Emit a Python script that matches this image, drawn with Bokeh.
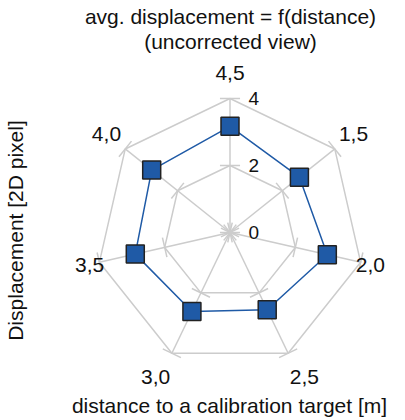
import numpy as np
from bokeh.plotting import figure
from bokeh.models import Range1d
from bokeh.core.properties import value
from bokeh.embed import file_html
from bokeh.resources import INLINE

# ---- data ----
categories = ["4,5", "1,5", "2,0", "2,5", "3,0", "3,5", "4,0"]
displacement = [3.17, 2.65, 2.98, 2.56, 2.62, 2.90, 2.99]
radial_ticks = [0, 2, 4]
radial_tick_labels = ["0", "2", "4"]
grid_rings = [2, 4]
title_lines = ["avg. displacement = f(distance)", "(uncorrected view)"]
x_label = "distance to a calibration target [m]"
y_label = "Displacement [2D pixel]"

# ---- layout / style ----
W, H = 405, 420
S = 33.5             # pixels per radial unit
CX, CY = 229.5, 232  # centre in canvas pixels (from top-left)
FONT = value("Liberation Sans")
GRID = "#cccccc"
BLUE = "#1f5aa6"
TXT = "#111111"
label_r_px = [160, 158, 144, 160, 160, 144, 158]
label_nudge_px = [0, 0, 0, 5, -5, 0, 0]

def px(xp, yp):
    return (xp - CX) / S, (CY - yp) / S

p = figure(width=W, height=H, output_backend="svg", toolbar_location=None,
           x_range=Range1d(-CX / S, (W - CX) / S),
           y_range=Range1d(-(H - CY) / S, CY / S),
           min_border=0, outline_line_color=None)
p.axis.visible = False
p.grid.visible = False
p.background_fill_color = "white"
p.border_fill_color = "white"

n = len(categories)
theta = np.arange(n) * 2 * np.pi / n
sx, cy = np.sin(theta), np.cos(theta)

# spokes
rmax = max(grid_rings)
p.segment(x0=np.zeros(n), y0=np.zeros(n), x1=rmax * sx, y1=rmax * cy,
          line_color=GRID, line_width=1.5)
# rings
for r in grid_rings:
    xs = list(r * sx) + [r * sx[0]]
    ys = list(r * cy) + [r * cy[0]]
    p.line(xs, ys, line_color=GRID, line_width=1.5)
# tick marks perpendicular to each spoke
tl = 0.3
for t in radial_ticks:
    p.segment(x0=t * sx - tl * cy, y0=t * cy + tl * sx,
              x1=t * sx + tl * cy, y1=t * cy - tl * sx,
              line_color=GRID, line_width=1.5)

# tick labels
p.text(x=[0.55] * len(radial_ticks), y=radial_ticks,
       text=radial_tick_labels, text_font=FONT, text_font_size="19px",
       text_color=TXT, text_align="left", text_baseline="middle")

# category labels
lr = np.array(label_r_px) / S
nudge = np.array(label_nudge_px) / S
p.text(x=lr * sx + nudge, y=lr * cy, text=categories, text_font=FONT,
       text_font_size="21px", text_color=TXT,
       text_align="center", text_baseline="middle")

# data
vals = np.array(displacement)
xs = list(vals * sx) + [vals[0] * sx[0]]
ys = list(vals * cy) + [vals[0] * cy[0]]
p.line(xs, ys, line_color=BLUE, line_width=1.5)
p.scatter(vals * sx, vals * cy, marker="square", size=18,
          fill_color=BLUE, line_color="#222222", line_width=1.5)

# titles and axis labels
tx, ty1 = px(230, 16)
_, ty2 = px(230, 41)
p.text(x=[tx, tx], y=[ty1, ty2], text=title_lines, text_font=FONT,
       text_font_size="21px", text_color=TXT,
       text_align="center", text_baseline="middle")
xx, xy = px(229, 405)
p.text(x=[xx], y=[xy], text=[x_label], text_font=FONT, text_font_size="21px",
       text_color=TXT, text_align="center", text_baseline="middle")
yx, yy = px(15, 230)
p.text(x=[yx], y=[yy], text=[y_label], text_font=FONT, text_font_size="21px",
       text_color=TXT, text_align="center", text_baseline="middle",
       angle=np.pi / 2)

open("out.html", "w").write(file_html(p, INLINE))
